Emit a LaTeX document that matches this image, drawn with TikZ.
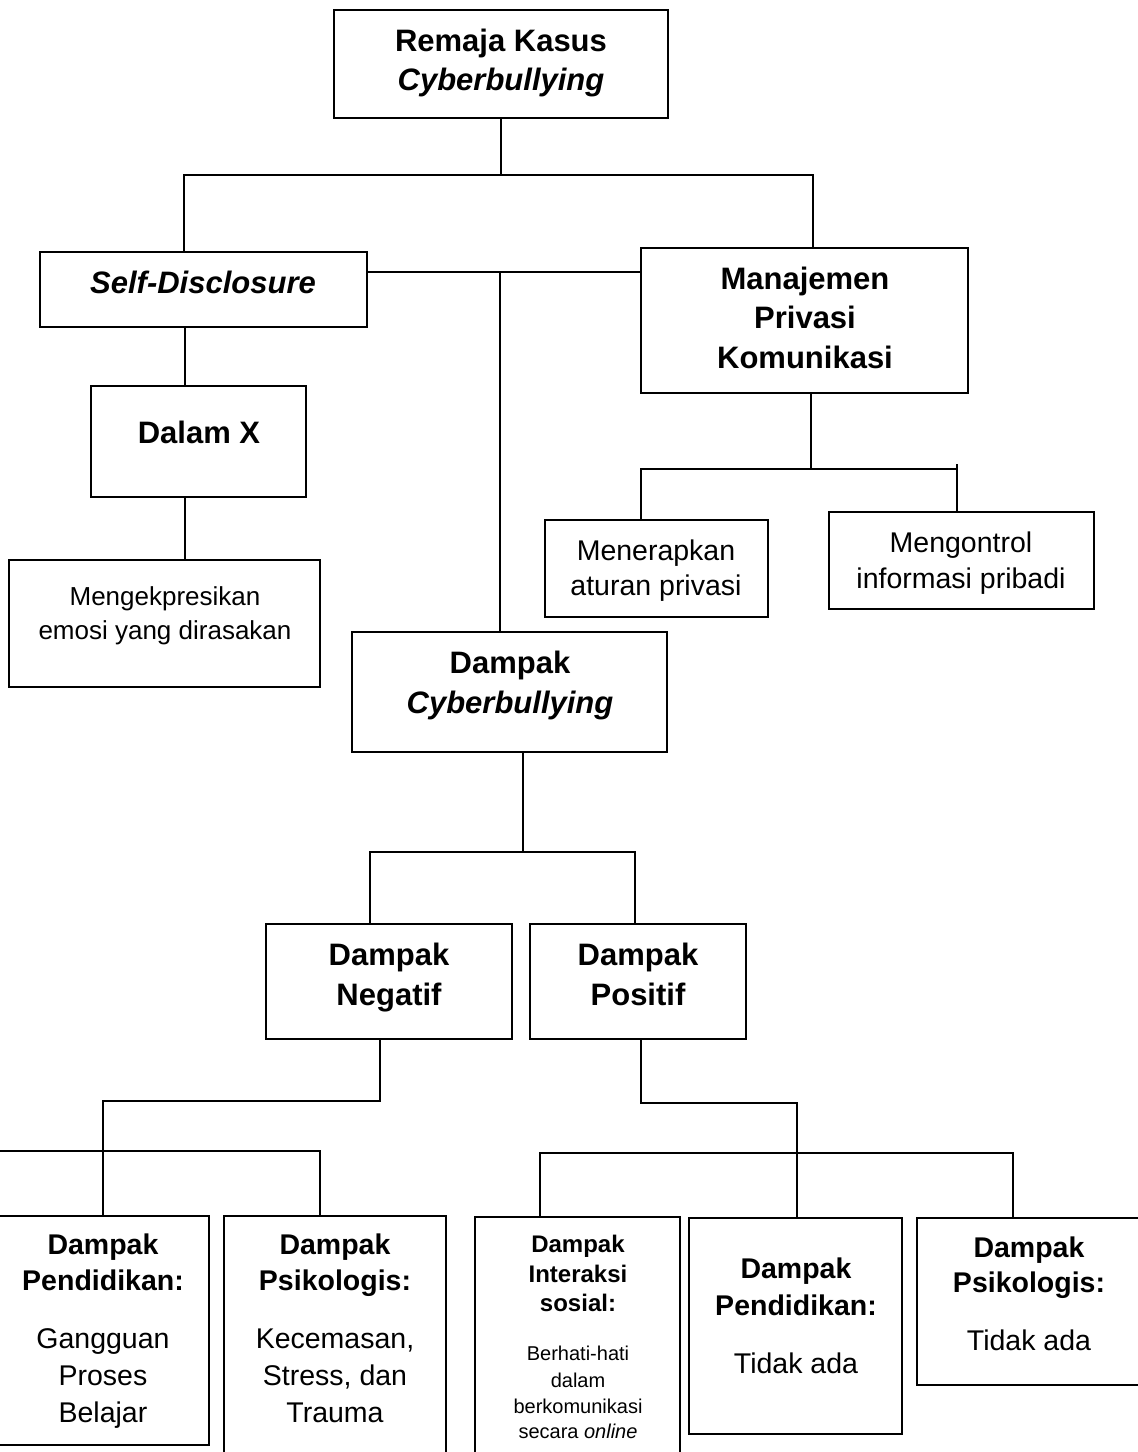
\documentclass[tikz,border=0pt]{standalone}
\usepackage{fontspec}
\setmainfont{Liberation Sans}
\newcommand\bx[5]{\node[boxst, minimum width={(#4)-(#2)}, minimum height={(#5)-(#3)}] (#1) at ({((#2)+(#4))/2},{((#3)+(#5))/2}) {};}
\newcommand\tl[5][]{\node[#1] (#2) at (#3,#4) {#5};}
\tikzset{
  boxst/.style={draw, line width=2.5pt, inner sep=0pt},
  conn/.style={line width=2pt, line join=miter},
  txt/.style={inner sep=0pt, anchor=base},
  TB/.style={txt, font=\fontsize{31}{37}\selectfont\bfseries},
  TR/.style={txt, font=\fontsize{28.5}{34}\selectfont},
  MK/.style={txt, font=\fontsize{26}{31}\selectfont},
  BB/.style={txt, font=\fontsize{28.5}{34}\selectfont\bfseries},
  IH/.style={txt, font=\fontsize{24}{29}\selectfont\bfseries},
  IB/.style={txt, font=\fontsize{20}{24}\selectfont},
}
\begin{document}
\begin{tikzpicture}[x=1pt,y=-1pt]
\useasboundingbox (0,0) rectangle (1138,1452);
% boxes
\bx{root}{334}{10}{668}{118}
\bx{sd}{40}{252}{367}{327}
\bx{mpk}{641}{248}{968}{393}
\bx{dx}{91}{386}{306}{497}
\bx{mek}{9}{560}{320}{687}
\bx{men}{545}{520}{768}{617}
\bx{mgc}{829}{512}{1094}{609}
\bx{dc}{352}{632}{667}{752}
\bx{dn}{266}{924}{512}{1039}
\bx{dp}{530}{924}{746}{1039}
\bx{ba}{-3}{1216}{209}{1445}
\bx{bb}{224}{1216}{446}{1475}
\bx{bc}{475}{1217}{680}{1475}
\bx{bd}{689}{1218}{902}{1434}
\bx{be}{917}{1218}{1141}{1385}
% texts
\tl[TB]{t1a}{501}{51}{Remaja Kasus}
\tl[TB]{t1b}{501}{90}{\itshape Cyberbullying}
\tl[TB]{t2}{203}{293}{\itshape Self-Disclosure}
\tl[TB]{t3a}{805}{289}{Manajemen}
\tl[TB]{t3b}{805}{328}{Privasi}
\tl[TB]{t3c}{805}{368}{Komunikasi}
\tl[TB]{t4}{199}{443}{Dalam X}
\tl[MK]{t5a}{165}{605}{Mengekpresikan}
\tl[MK]{t5b}{165}{639}{emosi yang dirasakan}
\tl[TR]{t6a}{656}{560}{Menerapkan}
\tl[TR]{t6b}{656}{595}{aturan privasi}
\tl[TR]{t7a}{961}{552}{Mengontrol}
\tl[TR]{t7b}{961}{588}{informasi pribadi}
\tl[TB]{t8a}{510}{673}{Dampak}
\tl[TB]{t8b}{510}{713}{\itshape Cyberbullying}
\tl[TB]{t9a}{389}{965}{Dampak}
\tl[TB]{t9b}{389}{1005}{Negatif}
\tl[TB]{t10a}{638}{965}{Dampak}
\tl[TB]{t10b}{638}{1005}{Positif}
\tl[BB]{t11a}{103}{1254}{Dampak}
\tl[BB]{t11b}{103}{1290}{Pendidikan:}
\tl[TR]{t11c}{103}{1348}{Gangguan}
\tl[TR]{t11d}{103}{1385}{Proses}
\tl[TR]{t11e}{103}{1422}{Belajar}
\tl[BB]{t12a}{335}{1254}{Dampak}
\tl[BB]{t12b}{335}{1290}{Psikologis:}
\tl[TR]{t12c}{335}{1348}{Kecemasan,}
\tl[TR]{t12d}{335}{1385}{Stress, dan}
\tl[TR]{t12e}{335}{1422}{Trauma}
\tl[IH]{t13a}{578}{1252}{Dampak}
\tl[IH]{t13b}{578}{1282}{Interaksi}
\tl[IH]{t13c}{578}{1311}{sosial:}
\tl[IB]{t13d}{578}{1360}{Berhati-hati}
\tl[IB]{t13e}{578}{1387}{dalam}
\tl[IB]{t13f}{578}{1413}{berkomunikasi}
\tl[IB]{t13g}{578}{1438}{secara \itshape online}
\tl[BB]{t14a}{796}{1278}{Dampak}
\tl[BB]{t14b}{796}{1315}{Pendidikan:}
\tl[TR]{t14c}{796}{1373}{Tidak ada}
\tl[BB]{t15a}{1029}{1257}{Dampak}
\tl[BB]{t15b}{1029}{1292}{Psikologis:}
\tl[TR]{t15c}{1029}{1350}{Tidak ada}
% connectors
\coordinate (j1) at (501,175);
\coordinate (bl) at (184,175);
\coordinate (br) at (813,175);
\draw[conn] (root.south) -- (j1);
\draw[conn] (bl |- sd.north) -- (bl) -- (br) -- (br |- mpk.north);
\coordinate (h2) at (0,272);
\draw[conn] (sd.east |- h2) -- (mpk.west |- h2);
\coordinate (vm) at (500,272);
\draw[conn] (vm) -- (vm |- dc.north);
\coordinate (vl) at (185,0);
\draw[conn] (vl |- sd.south) -- (vl |- dx.north);
\draw[conn] (vl |- dx.south) -- (vl |- mek.north);
\coordinate (m1) at (811,469);
\coordinate (m1l) at (641,469);
\coordinate (m1r) at (957,469);
\coordinate (m1t) at (957,464);
\draw[conn] (mpk.south -| m1) -- (m1);
\draw[conn] (m1l |- men.north) -- (m1l) -- (m1r);
\draw[conn] (m1t) -- (m1t |- mgc.north);
\coordinate (d1) at (523,852);
\coordinate (d1l) at (370,852);
\coordinate (d1r) at (635,852);
\draw[conn] (d1 |- dc.south) -- (d1);
\draw[conn] (d1l |- dn.north) -- (d1l) -- (d1r) -- (d1r |- dp.north);
\coordinate (n1) at (380,1101);
\coordinate (n1l) at (103,1101);
\draw[conn] (n1 |- dn.south) -- (n1) -- (n1l) -- (n1l |- ba.north);
\coordinate (n2l) at (0,1151);
\coordinate (n2r) at (320,1151);
\draw[conn] (n2l) -- (n2r) -- (n2r |- bb.north);
\coordinate (p1) at (641,1103);
\coordinate (p1r) at (797,1103);
\draw[conn] (p1 |- dp.south) -- (p1) -- (p1r) -- (p1r |- bd.north);
\coordinate (p2l) at (540,1153);
\coordinate (p2r) at (1013,1153);
\draw[conn] (p2l |- bc.north) -- (p2l) -- (p2r) -- (p2r |- be.north);
\end{tikzpicture}
\end{document}
